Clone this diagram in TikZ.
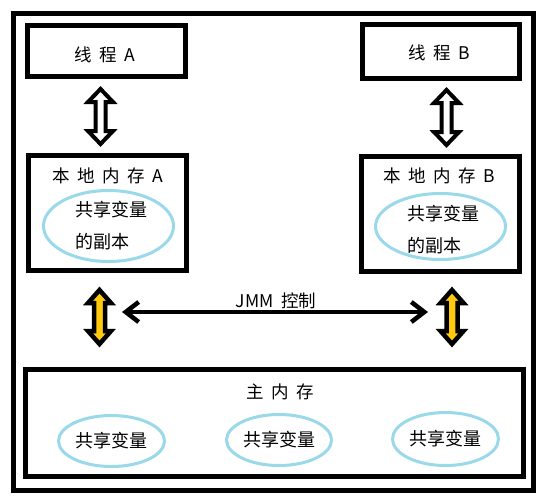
\documentclass[tikz,border=0pt]{standalone}
\usepackage{fontspec}
\setmainfont[WordSpace=1.9]{Noto Sans CJK SC}
\usetikzlibrary{arrows.meta,shapes.geometric}
\definecolor{lblue}{HTML}{99D9EA}
\definecolor{gold}{HTML}{FFC90E}
\newcommand\blkarrow[6]{%
 \draw[#1] (#2,#3) -- (#2+#5,#3+13) -- (#2+#6,#3+13) -- (#2+#6,#4-13) -- (#2+#5,#4-13) -- (#2,#4) -- (#2-#5,#4-13) -- (#2-#6,#4-13) -- (#2-#6,#3+13) -- (#2-#5,#3+13) -- cycle;}
\begin{document}
\begin{tikzpicture}[x=1pt,y=-1pt,
  box/.style={draw, line width=5pt, inner sep=0pt},
  oval/.style={draw=lblue, line width=3pt, ellipse, inner sep=0pt},
  lbl/.style={inner sep=0pt, font=\fontsize{17.5}{20}\selectfont},
  vtxt/.style={inner sep=0pt, font=\fontsize{18}{32}\selectfont, align=left},
  whitearr/.style={draw, fill=white, line width=4pt},
  goldarr/.style={draw, fill=gold, line width=4.5pt},
  jmm/.style={line width=4.5pt, {Straight Barb[length=13pt,width=20pt]}-{Straight Barb[length=13pt,width=20pt]}}]
\useasboundingbox (0,0) rectangle (545,499);
\fill[white] (0,0) rectangle (545,499);
% outer frame
\node[box, minimum width=519.5, minimum height=477] (frame) at (273.25,252) {};
% threads
\node[box, minimum width=158, minimum height=51] (tA) at (106.5,51) {};
\node[lbl] (tAt) at (104.5,54.5) {线 程 A};
\node[box, minimum width=157, minimum height=54] (tB) at (441,51.5) {};
\node[lbl] (tBt) at (439.5,53) {线 程 B};
% local memories
\node[box, minimum width=158, minimum height=115] (lA) at (107.5,213) {};
\node[lbl] (lAt) at (108,175.5) {本 地 内 存 A};
\node[oval, minimum width=130, minimum height=71] (eA) at (108.5,226) {};
\node[vtxt] (eAt) at (111.5,226) {共享变量\\的副本};
\node[box, minimum width=158, minimum height=115] (lB) at (440.5,214) {};
\node[lbl] (lBt) at (439.5,175.5) {本 地 内 存 B};
\node[oval, minimum width=130, minimum height=66] (eB) at (440.5,226.5) {};
\node[vtxt] (eBt) at (443.5,230) {共享变量\\的副本};
% main memory
\node[box, minimum width=498, minimum height=107] (mm) at (274.5,423) {};
\node[lbl] (mmt) at (280,391.5) {主 内 存};
\node[oval, minimum width=106, minimum height=51] (m1) at (111.5,441) {};
\node[vtxt] at (m1) {共享变量};
\node[oval, minimum width=105, minimum height=51] (m2) at (279,440) {};
\node[vtxt] at (m2) {共享变量};
\node[oval, minimum width=106, minimum height=53] (m3) at (445.5,439) {};
\node[vtxt] at (m3) {共享变量};
% block arrows
\blkarrow{whitearr}{100.5}{89}{144}{12.5}{5}
\blkarrow{whitearr}{446.5}{90}{145}{12.5}{5}
\blkarrow{goldarr}{99.5}{290}{344}{11.5}{5.5}
\blkarrow{goldarr}{452}{290}{344}{11.5}{5.5}
% JMM
\coordinate (jl) at (122,312);
\coordinate (jr) at (428,312);
\draw[jmm] (jl) -- (jr);
\node[lbl] (jt) at (276,300.5) {JMM 控制};
\end{tikzpicture}
\end{document}
